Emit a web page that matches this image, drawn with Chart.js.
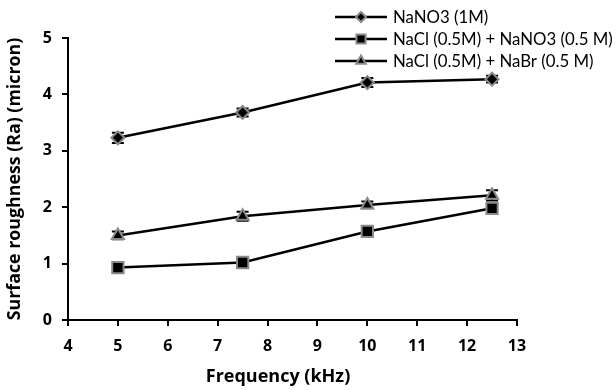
<!DOCTYPE html>
<html>
<head>
<meta charset="utf-8">
<script src="https://cdn.jsdelivr.net/npm/chart.js@4/dist/chart.umd.min.js"></script>
<style>
html,body{margin:0;padding:0;background:#fff;}
#wrap{position:relative;width:616px;height:390px;}
</style>
</head>
<body>
<div id="wrap"><canvas id="c" width="616" height="390"></canvas></div>
<script>
const frequencies = [5, 7.5, 10, 12.5];
const seriesNames = ['NaNO3 (1M)', 'NaCl (0.5M) + NaNO3 (0.5 M)', 'NaCl (0.5M) + NaBr (0.5 M)'];
const nano3 = [3.23, 3.68, 4.21, 4.27];
const naclNano3 = [0.93, 1.02, 1.57, 1.98];
const naclNabr = [1.50, 1.84, 2.04, 2.21];
const errNano3 = [0.09, 0.07, 0.08, 0.06];
const errNaclNano3 = [0.05, 0.05, 0.05, 0.06];
const errNaclNabr = [0.07, 0.08, 0.06, 0.09];
const xTicks = [4, 5, 6, 7, 8, 9, 10, 11, 12, 13];
const yTicks = [0, 1, 2, 3, 4, 5];
const xTitle = 'Frequency (kHz)';
const yTitle = 'Surface roughness (Ra) (micron)';

const FONT = 'Lato, "Open Sans", sans-serif';
const BFONT = '"Open Sans", "Liberation Sans", sans-serif';
const styles = [
  {pointStyle: 'rectRot', radius: 6.5},
  {pointStyle: 'rect', radius: 8},
  {pointStyle: 'triangle', radius: 7}
];
const values = [nano3, naclNano3, naclNabr];
const errs = [errNano3, errNaclNano3, errNaclNabr];

const datasets = values.map((vals, i) => ({
  label: seriesNames[i],
  data: frequencies.map((f, j) => ({x: f, y: vals[j]})),
  errors: errs[i],
  borderColor: '#000',
  borderWidth: 2.5,
  backgroundColor: '#000',
  pointBackgroundColor: '#000',
  pointBorderColor: '#8a8a8a',
  pointBorderWidth: 2,
  pointStyle: styles[i].pointStyle,
  pointRadius: styles[i].radius,
  tension: 0,
  fill: false
}));

const errorBars = {
  id: 'errorBars',
  beforeDatasetsDraw(chart) {
    const ctx = chart.ctx;
    const xs = chart.scales.x, ys = chart.scales.y;
    ctx.save();
    ctx.strokeStyle = '#000';
    ctx.lineWidth = 2;
    chart.data.datasets.forEach(ds => {
      ds.data.forEach((p, j) => {
        const e = ds.errors[j];
        const px = xs.getPixelForValue(p.x);
        const top = ys.getPixelForValue(p.y + e);
        const bot = ys.getPixelForValue(p.y - e);
        ctx.beginPath();
        ctx.moveTo(px, top); ctx.lineTo(px, bot);
        ctx.moveTo(px - 6, top); ctx.lineTo(px + 6, top);
        ctx.moveTo(px - 6, bot); ctx.lineTo(px + 6, bot);
        ctx.stroke();
      });
    });
    ctx.restore();
  }
};

const customLegend = {
  id: 'customLegend',
  afterDraw(chart) {
    const ctx = chart.ctx;
    ctx.save();
    const rows = [17, 39, 61];
    chart.data.datasets.forEach((ds, i) => {
      const y = rows[i];
      ctx.strokeStyle = '#000';
      ctx.lineWidth = 2.5;
      ctx.beginPath();
      ctx.moveTo(335, y); ctx.lineTo(387, y);
      ctx.stroke();
      ctx.fillStyle = '#000';
      ctx.strokeStyle = '#8a8a8a';
      ctx.lineWidth = 2;
      Chart.helpers.drawPoint(ctx, {pointStyle: ds.pointStyle, radius: ds.pointRadius - 1.5, borderWidth: 2}, 361, y);
      ctx.fillStyle = '#000';
      ctx.font = '16.8px ' + FONT;
      ctx.textBaseline = 'middle';
      ctx.textAlign = 'left';
      ctx.fillText(ds.label, 393, y + 1);
    });
    // x axis title (sits slightly left of the plot centre in the reference)
    ctx.font = 'bold 18px ' + BFONT;
    ctx.textAlign = 'center';
    ctx.textBaseline = 'middle';
    ctx.fillText(xTitle, 278, 377);
    ctx.restore();
  }
};

new Chart(document.getElementById('c'), {
  type: 'line',
  data: {datasets},
  plugins: [errorBars, customLegend],
  options: {
    responsive: false,
    animation: false,
    layout: {padding: {left: 0, right: 99, top: 38, bottom: 0}},
    plugins: {legend: {display: false}, tooltip: {enabled: false}},
    scales: {
      x: {
        type: 'linear',
        min: 4, max: 13,
        afterBuildTicks(s) { s.ticks = xTicks.map(v => ({value: v})); },
        afterFit(s) { s.height = 70; },
        grid: {display: true, drawOnChartArea: false, drawTicks: true, tickLength: 6, color: '#000', lineWidth: 2},
        border: {display: true, color: '#000', width: 2},
        ticks: {color: '#000', font: {family: BFONT, size: 16, weight: 'bold'}, padding: 11, maxRotation: 0},
        title: {display: false}
      },
      y: {
        type: 'linear',
        min: 0, max: 5,
        afterBuildTicks(s) { s.ticks = yTicks.map(v => ({value: v})); },
        afterFit(s) { s.width = 68; },
        grid: {display: true, drawOnChartArea: false, drawTicks: true, tickLength: 6, color: '#000', lineWidth: 2},
        border: {display: true, color: '#000', width: 2},
        ticks: {color: '#000', font: {family: BFONT, size: 16, weight: 'bold'}, padding: 10},
        title: {display: true, text: yTitle, color: '#000', font: {family: BFONT, size: 17.8, weight: 'bold'}, padding: {bottom: 5}}
      }
    }
  }
});
</script>
</body>
</html>
